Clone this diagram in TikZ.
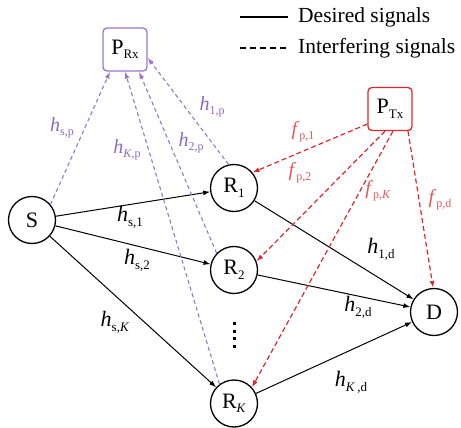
\documentclass[tikz,border=0pt]{standalone}
\usepackage{fontspec}
\setmainfont{Liberation Serif}
\usetikzlibrary{arrows.meta}
\definecolor{pur}{RGB}{150,120,200}
\definecolor{purtxt}{RGB}{140,105,190}
\definecolor{rd}{RGB}{220,40,45}
\definecolor{rdtxt}{RGB}{225,90,90}
\newcommand{\nlab}[2]{#1\raisebox{-0.45ex}{\fontsize{13}{13}\selectfont #2}}
\newcommand{\elab}[2]{\textit{#1}\raisebox{-0.5ex}{\fontsize{13}{13}\selectfont #2}}
\newcommand{\clab}[2]{\textit{#1}\raisebox{-0.45ex}{\fontsize{12}{12}\selectfont #2}}
\begin{document}
\begin{tikzpicture}[x=1pt,y=-1pt,
  nd/.style={circle,draw,line width=1.3pt,minimum size=47pt,inner sep=0pt,font=\fontsize{22}{24}\selectfont},
  bx/.style={rectangle,rounded corners=4pt,line width=1.3pt,minimum width=44pt,minimum height=43pt,inner sep=0pt,font=\fontsize{22}{24}\selectfont},
  des/.style={line width=1pt,-{Latex[length=7pt,width=5pt]}},
  pint/.style={pur,line width=1.1pt,dash pattern=on 4pt off 3pt,-{Latex[length=7pt,width=5pt]}},
  rint/.style={rd,line width=1.2pt,dash pattern=on 5pt off 3pt,-{Latex[length=7pt,width=5pt]}},
  blab/.style={font=\fontsize{22}{24}\selectfont,inner sep=0pt},
  plab/.style={font=\fontsize{20}{22}\selectfont,inner sep=0pt,text=purtxt},
  rlab/.style={font=\fontsize{20}{22}\selectfont,inner sep=0pt,text=rdtxt},
  legtxt/.style={font=\fontsize{21.5}{23}\selectfont,anchor=west,inner sep=0pt}]
\useasboundingbox (0,0) rectangle (461,428);
% nodes
\node[nd] (S) at (32,220) {S};
\node[nd] (R1) at (234,188) {\nlab{R}{1}};
\node[nd] (R2) at (234,270) {\nlab{R}{2}};
\node[nd] (RK) at (234,403.5) {\nlab{R}{\textit{K}}};
\node[nd] (D) at (434,312) {D};
\node[bx,draw=pur] (PRx) at (125,49.5) {\nlab{P}{Rx}};
\node[bx,draw=rd] (PTx) at (390,109) {\nlab{P}{Tx}};
% dots
\foreach \yy [count=\i] in {323,331,338,346}
  \fill (232.5,\yy-1.5) rectangle (235.5,\yy+1.5);
% desired
\draw[des] (S) -- (R1);
\draw[des] (S) -- (R2);
\draw[des] (S) -- (RK);
\draw[des] (R1) -- (D);
\draw[des] (R2) -- (D);
\draw[des] (RK) -- (D);
% interference to PRx
\draw[pint] (S.40) -- ([xshift=-15pt]PRx.south);
\draw[pint] (RK.127) -- (PRx.south);
\draw[pint] (R2.136) -- ([xshift=14pt]PRx.south);
\draw[pint] (R1.103) -- (PRx.-20);
% interference from PTx
\draw[rint] ([yshift=-15pt]PTx.west) -- (R1.40);
\draw[rint] ([xshift=-5pt]PTx.south) -- (R2.21);
\draw[rint] ([xshift=3pt]PTx.south) -- (RK.42);
\draw[rint] ([xshift=18pt]PTx.south) -- (D.92);
% labels
\node[plab] (lsp) at (62,128) {\clab{h}{s,p}};
\node[plab] (lKp) at (127,150) {\clab{h}{\textit{K},p}};
\node[plab] (l2p) at (191,143) {\clab{h}{2,p}};
\node[plab] (l1p) at (212,107) {\clab{h}{1,p}};
\node[rlab] (lf1) at (303,132) {\clab{f}{p,1}};
\node[rlab] (lf2) at (300,173) {\clab{f}{p,2}};
\node[rlab] (lfK) at (378,191) {\clab{f}{p,\textit{K}}};
\node[rlab] (lfd) at (440,200) {\clab{f}{p,d}};
\node[blab] (ls1) at (130,217) {\elab{h}{s,1}};
\node[blab] (ls2) at (137,260) {\elab{h}{s,2}};
\node[blab] (lsK) at (115,322) {\elab{h}{s,\textit{K}}};
\node[blab] (l1d) at (381,249) {\elab{h}{1,d}};
\node[blab] (l2d) at (358,307) {\elab{h}{2,d}};
\node[blab] (lKd) at (351,382) {\elab{h}{\textit{K}\,,d}};
% legend
\coordinate (a1) at (240,17);
\coordinate (a2) at (288,17);
\coordinate (b1) at (240,48);
\coordinate (b2) at (288,48);
\draw[line width=1.1pt] (a1) -- (a2);
\draw[line width=1.1pt,dash pattern=on 6pt off 4pt] (b1) -- (b2);
\node[legtxt] (t1) at (298,17) {Desired signals};
\node[legtxt] (t2) at (298,48) {Interfering signals};
\end{tikzpicture}
\end{document}
